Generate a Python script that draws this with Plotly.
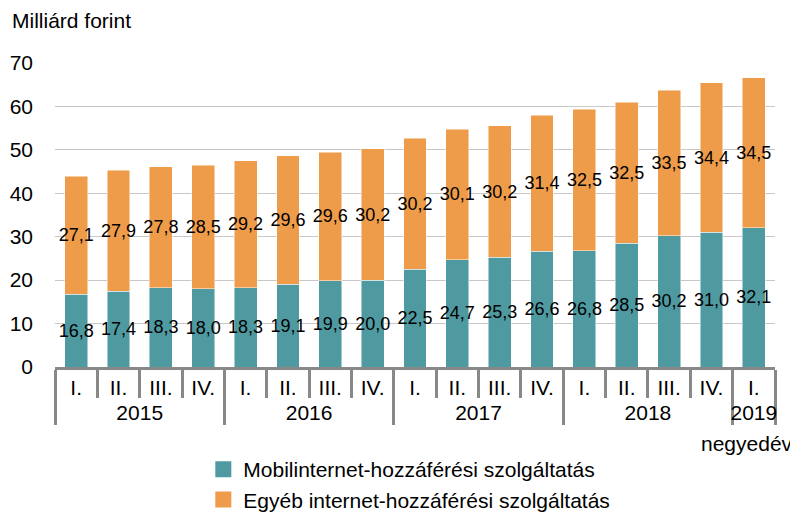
import plotly.graph_objects as go

years = ["2015"] * 4 + ["2016"] * 4 + ["2017"] * 4 + ["2018"] * 4 + ["2019"]
quarters = ["I.", "II.", "III.", "IV."] * 4 + ["I."]
mobile = [16.8, 17.4, 18.3, 18.0, 18.3, 19.1, 19.9, 20.0, 22.5, 24.7, 25.3, 26.6, 26.8, 28.5, 30.2, 31.0, 32.1]
other = [27.1, 27.9, 27.8, 28.5, 29.2, 29.6, 29.6, 30.2, 30.2, 30.1, 30.2, 31.4, 32.5, 32.5, 33.5, 34.4, 34.5]
names = ["Mobilinternet-hozzáférési szolgáltatás", "Egyéb internet-hozzáférési szolgáltatás"]
y_title = "Milliárd forint"
x_title = "negyedév"

FONT = "Liberation Sans, Arial, sans-serif"
TEAL = "#4F9AA0"
ORANGE = "#EE9C4A"

def fmt(v):
    return f"{v:.1f}".replace(".", ",")

fig = go.Figure()
for vals, name, col in [(mobile, names[0], TEAL), (other, names[1], ORANGE)]:
    fig.add_trace(go.Bar(
        x=[years, quarters], y=vals, name=name, showlegend=False,
        marker=dict(color=col, line=dict(color="rgba(255,255,255,0.6)", width=0.8)),
        text=[fmt(v) for v in vals], textposition="inside",
        insidetextanchor="middle", textangle=0, constraintext="none",
        insidetextfont=dict(family=FONT, size=18, color="black"),
        hoverinfo="skip",
    ))
# legend entries with square swatches
for i, (name, col) in enumerate([(names[0], TEAL), (names[1], ORANGE)]):
    fig.add_trace(go.Scatter(
        x=[[years[0]], [quarters[0]]], y=[None], mode="markers", name=name,
        legendgroup=f"g{i}",
        marker=dict(symbol="square", size=16, color=col), hoverinfo="skip",
    ))

# the page body has an 8px margin, so the figure is 8px smaller each way
fig.update_layout(
    barmode="stack", bargap=0.46,
    width=790, height=509,
    margin=dict(l=47, r=23, t=55, b=150, autoexpand=False),
    paper_bgcolor="white", plot_bgcolor="white",
    font=dict(family=FONT, size=21, color="black"),
    showlegend=True,
    legend=dict(orientation="v", traceorder="normal", x=0.206, xanchor="left",
                y=-0.27, yanchor="top", font=dict(family=FONT, size=21),
                itemsizing="trace", itemwidth=30, tracegroupgap=5),
    xaxis=dict(type="multicategory", range=[-0.5, 16.5], autorange=False,
               showline=True, linecolor="#888888", linewidth=2.5,
               ticks="outside", tickson="boundaries", ticklen=28, tickwidth=2.5,
               tickcolor="#888888", showdividers=True, dividercolor="#888888",
               dividerwidth=2.5, showgrid=False, automargin=False,
               tickfont=dict(family=FONT, size=21, color="black")),
    yaxis=dict(range=[0, 70], dtick=10, showgrid=True, gridcolor="#C8C8C8",
               gridwidth=1.2, zeroline=False, showline=False, automargin=False,
               ticks="", ticklabelstandoff=21,
               tickfont=dict(family=FONT, size=21, color="black")),
    annotations=[
        dict(text=y_title, xref="paper", yref="paper", x=0, xshift=-45, y=1, yshift=43,
             xanchor="left", yanchor="middle", showarrow=False,
             font=dict(family=FONT, size=21, color="black")),
        dict(text=x_title, xref="paper", yref="paper", x=1, xshift=20, y=0, yshift=-76,
             xanchor="right", yanchor="middle", showarrow=False,
             font=dict(family=FONT, size=21, color="black")),
    ],
)

fig.write_html("out.html")
